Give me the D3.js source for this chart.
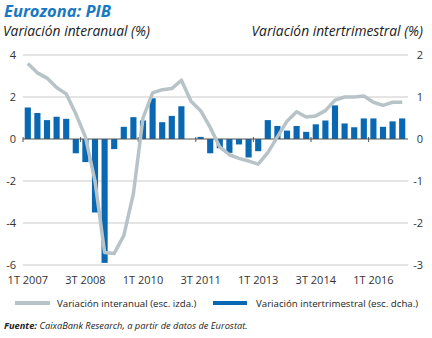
<!DOCTYPE html>
<html>
<head>
<meta charset="utf-8">
<script src="https://d3js.org/d3.v7.min.js"></script>
<style>
  body { margin: 0; background: #fff; font-family: "Open Sans", Arial, sans-serif; }
  .tick-lbl { font-size: 11px; fill: #333; }
</style>
</head>
<body>
<div id="chart"></div>
<script>

// quarters, 1T 2007 .. 4T 2016
var quarters = [
  "1T 2007","2T 2007","3T 2007","4T 2007",
  "1T 2008","2T 2008","3T 2008","4T 2008",
  "1T 2009","2T 2009","3T 2009","4T 2009",
  "1T 2010","2T 2010","3T 2010","4T 2010",
  "1T 2011","2T 2011","3T 2011","4T 2011",
  "1T 2012","2T 2012","3T 2012","4T 2012",
  "1T 2013","2T 2013","3T 2013","4T 2013",
  "1T 2014","2T 2014","3T 2014","4T 2014",
  "1T 2015","2T 2015","3T 2015","4T 2015",
  "1T 2016","2T 2016","3T 2016","4T 2016"
];

// year-on-year growth (left scale)
var interanual = [
  3.6, 3.15, 2.9, 2.45,
  2.15, 1.2, 0.1, -2.0,
  -5.4, -5.45, -4.6, -2.6,
  1.0, 2.2, 2.35, 2.4,
  2.8, 1.8, 1.35, 0.55,
  -0.38, -0.75, -0.92, -1.05,
  -1.2, -0.65, 0.1, 0.85,
  1.3, 1.05, 1.1, 1.35,
  1.85, 2.0, 2.0, 2.05,
  1.75, 1.6, 1.75, 1.75
];

// quarter-on-quarter growth (right scale)
var intertrimestral = [
  0.75, 0.62, 0.45, 0.53,
  0.48, -0.34, -0.55, -1.75,
  -2.95, -0.24, 0.29, 0.52,
  0.44, 0.97, 0.40, 0.55,
  0.78, 0.0, 0.05, -0.34,
  -0.22, -0.33, -0.13, -0.44,
  -0.29, 0.45, 0.31, 0.20,
  0.31, 0.17, 0.35, 0.44,
  0.80, 0.37, 0.28, 0.49,
  0.49, 0.29, 0.42, 0.49
];

var leftTicks = [-6, -4, -2, 0, 2, 4];
var rightTicks = [-3, -2, -1, 0, 1, 2];
var xLabels = ["1T 2007","3T 2008","1T 2010","3T 2011","1T 2013","3T 2014","1T 2016"];

var W = 432, H = 338;
var plot = {left: 23, right: 407, top: 55, bottom: 265};

var lineColor = "#b7c3c7",
    barColor = "#0a68b2",
    titleColor = "#1a78c2";

var svg = d3.select("#chart").append("svg")
    .attr("width", W)
    .attr("height", H);

var x = d3.scaleBand()
    .domain(quarters)
    .range([plot.left, plot.right])
    .paddingInner(0.36)
    .paddingOuter(0.18);

var yL = d3.scaleLinear().domain([-6, 4]).range([plot.bottom, plot.top]);
var yR = d3.scaleLinear().domain([-3, 2]).range([plot.bottom, plot.top]);

// titles
svg.append("text")
    .attr("x", 4).attr("y", 17)
    .style("font-size", "16.5px").style("font-weight", "bold").style("font-style", "italic")
    .style("fill", titleColor)
    .text("Eurozona: PIB");

svg.append("text")
    .attr("x", 3).attr("y", 36)
    .style("font-size", "13.8px").style("font-style", "italic").style("fill", "#222")
    .text("Variación interanual (%)");

svg.append("text")
    .attr("x", 423).attr("y", 36)
    .attr("text-anchor", "end")
    .style("font-size", "13.8px").style("font-style", "italic").style("fill", "#222")
    .text("Variación intertrimestral (%)");

// gridlines
svg.append("g")
  .selectAll("line")
  .data(leftTicks.filter(function(d) { return d != 0; }))
  .enter().append("line")
    .attr("x1", plot.left).attr("x2", plot.right + 1)
    .attr("y1", function(d) { return yL(d); })
    .attr("y2", function(d) { return yL(d); })
    .attr("stroke", "#c9c9c9").attr("stroke-width", 1);

// left axis labels
svg.append("g")
  .selectAll("text")
  .data(leftTicks)
  .enter().append("text")
    .attr("class", "tick-lbl")
    .attr("x", 16)
    .attr("y", function(d) { return yL(d) + 4; })
    .attr("text-anchor", "end")
    .text(function(d) { return d; });

// right axis labels
svg.append("g")
  .selectAll("text")
  .data(rightTicks)
  .enter().append("text")
    .attr("class", "tick-lbl")
    .attr("x", 423)
    .attr("y", function(d) { return yR(d) + 4; })
    .attr("text-anchor", "end")
    .text(function(d) { return d; });

// bars
svg.append("g")
  .selectAll("rect")
  .data(intertrimestral)
  .enter().append("rect")
    .attr("x", function(d, i) { return x(quarters[i]); })
    .attr("width", x.bandwidth())
    .attr("y", function(d) { return yR(Math.max(0, d)); })
    .attr("height", function(d) { return Math.abs(yR(d) - yR(0)); })
    .attr("fill", barColor);

// zero axis with ticks
svg.append("line")
    .attr("x1", plot.left).attr("x2", plot.right + 1)
    .attr("y1", yL(0)).attr("y2", yL(0))
    .attr("stroke", "#555").attr("stroke-width", 1);

var step = x.step();
svg.append("g")
  .selectAll("line")
  .data(xLabels)
  .enter().append("line")
    .attr("x1", function(d) { return x(d) - (step - x.bandwidth()) / 2; })
    .attr("x2", function(d) { return x(d) - (step - x.bandwidth()) / 2; })
    .attr("y1", yL(0) - 2).attr("y2", yL(0) + 3)
    .attr("stroke", "#555").attr("stroke-width", 1);

// x labels
svg.append("g")
  .selectAll("text")
  .data(xLabels)
  .enter().append("text")
    .attr("class", "tick-lbl")
    .attr("x", function(d) { return x(d) + x.bandwidth() / 2; })
    .attr("y", 284)
    .attr("text-anchor", "middle")
    .text(function(d) { return d; });

// line
var line = d3.line()
    .x(function(d, i) { return x(quarters[i]) + x.bandwidth() / 2; })
    .y(function(d) { return yL(d); });

svg.append("path")
    .datum(interanual)
    .attr("d", line)
    .attr("fill", "none")
    .attr("stroke", lineColor)
    .attr("stroke-width", 3.5)
    .attr("stroke-linejoin", "round");

// legend
var lg = svg.append("g").style("font-size", "9.7px").style("fill", "#222");
lg.append("rect").attr("x", 15).attr("y", 301).attr("width", 35).attr("height", 4).attr("fill", lineColor);
lg.append("text").attr("x", 57).attr("y", 307).text("Variación interanual (esc. izda.)");
lg.append("rect").attr("x", 213).attr("y", 301).attr("width", 34).attr("height", 4).attr("fill", barColor);
lg.append("text").attr("x", 256).attr("y", 307).text("Variación intertrimestral (esc. dcha.)");

// source
var src = svg.append("text")
    .attr("x", 4).attr("y", 329)
    .style("font-size", "9.3px").style("font-style", "italic").style("fill", "#222");
src.append("tspan").style("font-weight", "bold").text("Fuente:");
src.append("tspan").text(" CaixaBank Research, a partir de datos de Eurostat.");

</script>
</body>
</html>
